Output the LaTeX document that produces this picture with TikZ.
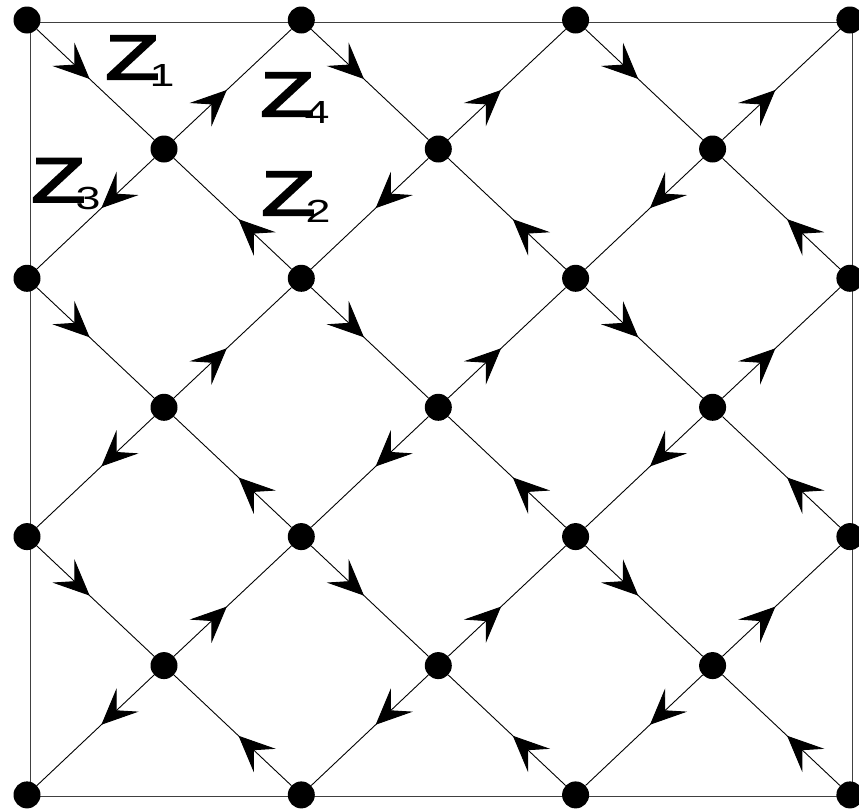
\documentclass[tikz,border=0pt]{standalone}
\usepackage{fontspec}
\setmainfont{Liberation Sans}
\newfontfamily\zfont{Liberation Sans}[FakeBold=3]
\usetikzlibrary{arrows.meta, decorations.markings, backgrounds}

\newcommand{\zlabel}[1]{\scalebox{1.4}[1]{\fontsize{63}{63}\zfont Z\kern-7pt\raisebox{-7pt}{\fontsize{32}{32}\normalfont #1}}}

\begin{document}
\begin{tikzpicture}[
    x=1pt, y=-1pt,
    dot/.style={circle, fill=black, inner sep=0pt, minimum size=27pt},
    frame/.style={draw=black!75, line width=1pt},
    link/.style={line width=0.9pt, postaction={decorate},
      decoration={markings, mark=at position 0.45 with {\arrow{Stealth[length=36pt, width=32pt, inset=15pt]}}}},
    lab/.style={inner sep=0pt}
  ]
  \useasboundingbox (0,0) rectangle (859,811);

  % corner dots
  \foreach \i in {0,...,3}
    \foreach \j in {0,...,3}
      \node[dot] (c-\i-\j) at (27+274.3*\i, 20+258.3*\j) {};
  % centre dots
  \foreach \i in {0,1,2}
    \foreach \j in {0,1,2}
      \node[dot] (m-\i-\j) at (164+274.3*\i, 149+258.3*\j) {};

  % frame
  \begin{scope}[on background layer]
    \draw[frame] ([shift={(3,2)}]c-0-0.center) rectangle ([shift={(3,2)}]c-3-3.center);
  \end{scope}

  % diagonals of each cell
  \foreach \i in {0,1,2}
    \foreach \j in {0,1,2} {
      \pgfmathtruncatemacro{\ni}{\i+1}
      \pgfmathtruncatemacro{\nj}{\j+1}
      \draw[link] (c-\i-\j) -- (m-\i-\j);
      \draw[link] (m-\i-\j) -- (c-\ni-\j);
      \draw[link] (m-\i-\j) -- (c-\i-\nj);
      \draw[link] (c-\ni-\nj) -- (m-\i-\j);
    }

  % labels
  \node[lab] (z1) at (140,61) {\zlabel{1}};
  \node[lab] (z4) at (295,98) {\zlabel{4}};
  \node[lab] (z3) at (66,184) {\zlabel{3}};
  \node[lab] (z2) at (296,197) {\zlabel{2}};
\end{tikzpicture}
\end{document}
